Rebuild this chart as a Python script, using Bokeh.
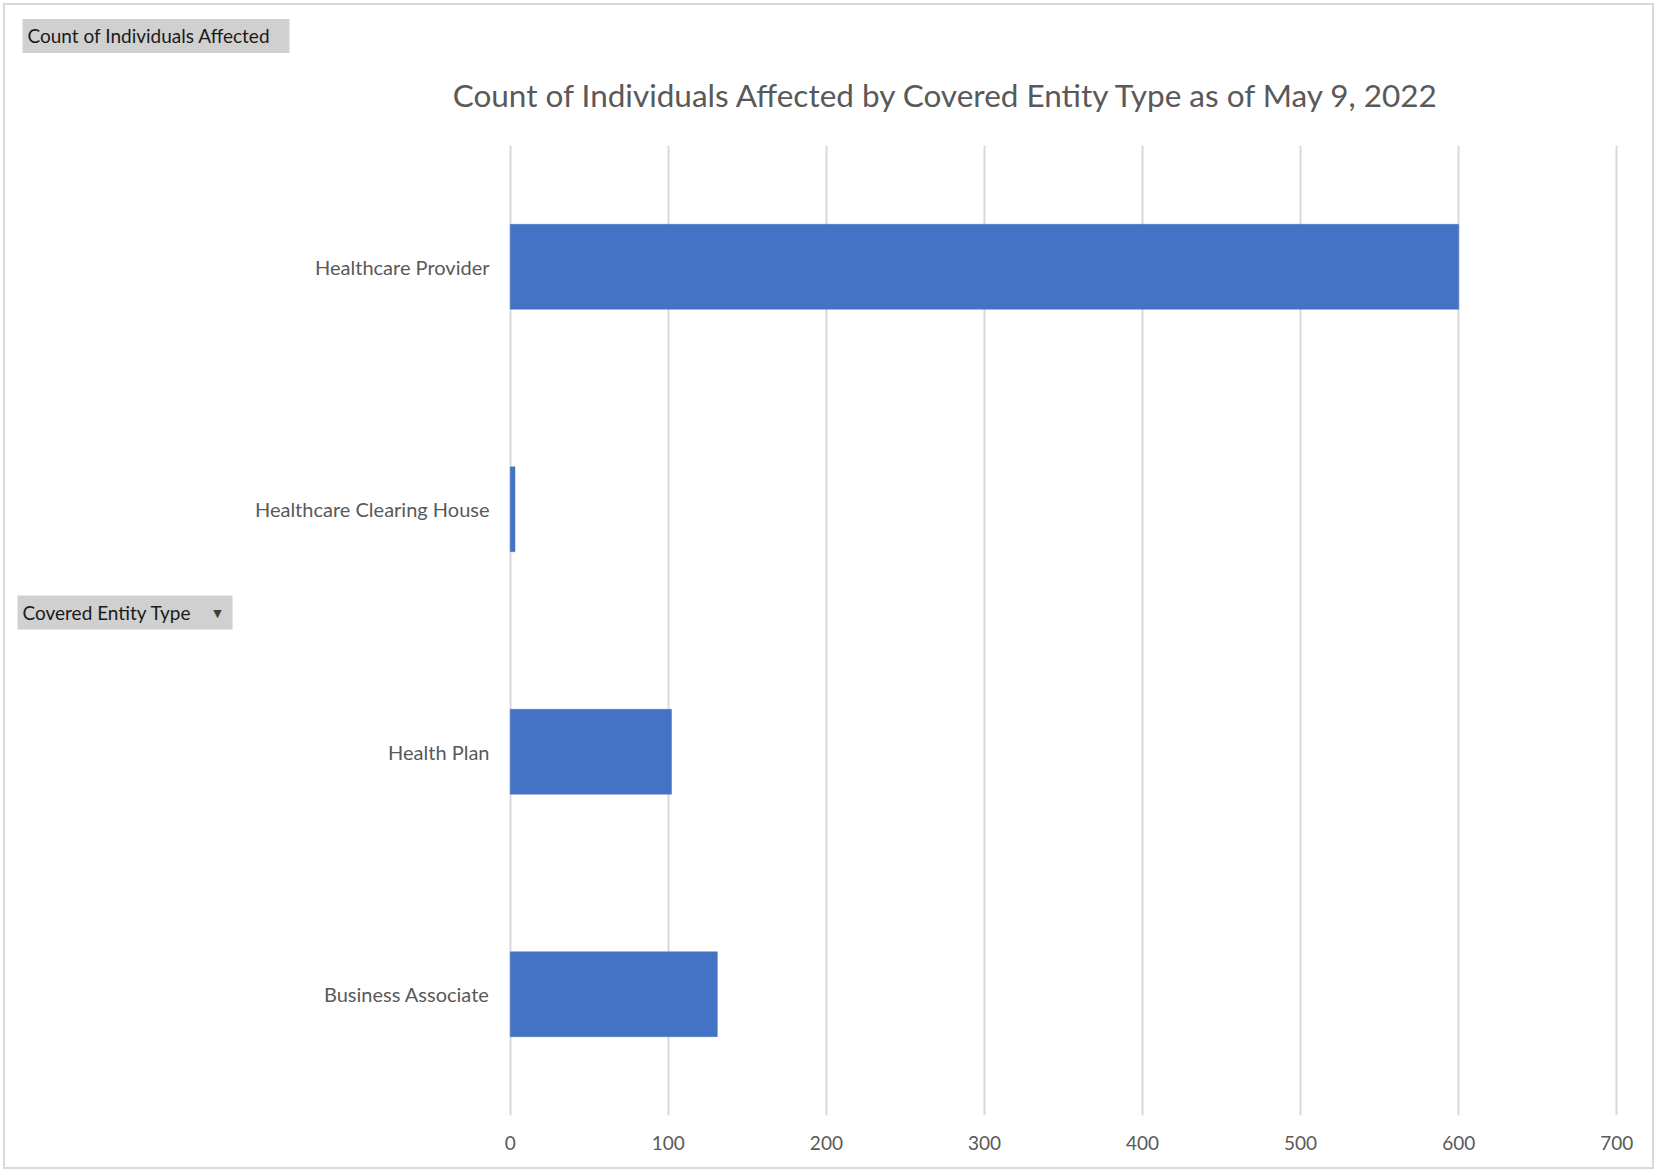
from bokeh.plotting import figure
from bokeh.models import FactorRange, Range1d, FixedTicker, Label, ColumnDataSource
from bokeh.embed import file_html
from bokeh.resources import INLINE

# ---- data ----
entity_types = ["Healthcare Provider", "Healthcare Clearing House", "Health Plan", "Business Associate"]
individuals_affected = [600, 3, 102, 131]
x_ticks = [0, 100, 200, 300, 400, 500, 600, 700]

title_text = "Count of Individuals Affected by Covered Entity Type as of May 9, 2022"
value_button_text = "Count of Individuals Affected"
axis_button_text = "Covered Entity Type"

# ---- layout ----
W, H = 1657, 1172
FL, FR, FT, FB = 505, 36, 145, 57          # borders around the plot frame
X0, X1 = -3, 703                            # value range shown across the frame
frame_w = W - FL - FR
frame_h = H - FT - FB
px_per_unit = frame_w / (X1 - X0)
px_per_cat = frame_h / len(entity_types)

FONT = "Lato"
GREY_TEXT = "#595959"
BAR_BLUE = "#4472C4"
BUTTON_GREY = "#d0d0d0"

y_factors = list(reversed(entity_types))    # categorical axis lists bottom-to-top

p = figure(width=W, height=H, output_backend="svg", toolbar_location=None,
           y_range=FactorRange(*y_factors, range_padding=0),
           x_range=Range1d(X0, X1), title=None,
           min_border_left=FL, min_border_right=FR, min_border_top=FT, min_border_bottom=FB)
p.outline_line_color = None
p.background_fill_color = "white"
p.border_fill_color = None
# thin light-grey frame around the whole chart area
p.styles = {"outline": "2px solid #d9d9d9", "outline-offset": "-5px",
            "box-shadow": "inset 0 0 0 3px #ffffff, inset 0 0 0 5px #d9d9d9",
            "background-color": "#ffffff"}

src = ColumnDataSource(dict(cat=entity_types, val=individuals_affected))
p.hbar(y="cat", right="val", left=0, height=0.35, source=src,
       fill_color=BAR_BLUE, line_color=BAR_BLUE, line_width=0.5)

# vertical gridlines only
p.ygrid.grid_line_color = None
p.xgrid.ticker = FixedTicker(ticks=x_ticks)
p.xgrid.grid_line_color = "#d9d9d9"
p.xgrid.grid_line_width = 2

# value axis
xa = p.xaxis[0]
xa.ticker = FixedTicker(ticks=x_ticks)
xa.axis_line_color = None
xa.major_tick_line_color = None
xa.minor_tick_line_color = None
xa.major_label_text_font = FONT
xa.major_label_text_font_size = "19px"
xa.major_label_text_color = GREY_TEXT
xa.major_label_standoff = 14

# category axis
ya = p.yaxis[0]
ya.axis_line_color = None
ya.major_tick_line_color = None
ya.minor_tick_line_color = None
ya.major_label_text_font = FONT
ya.major_label_text_font_size = "20px"
ya.major_label_text_color = GREY_TEXT
ya.major_label_standoff = 10


def dx(cx):
    # canvas x (px from left) -> value coordinate
    return (cx - FL) / px_per_unit + X0


def dy(cy):
    # canvas y (px from top) -> categorical synthetic coordinate
    return (H - FB - cy) / px_per_cat


# chart title
p.add_layout(Label(x=dx(947), y=dy(94), text=title_text,
                   text_align="center", text_baseline="middle",
                   text_font=FONT, text_font_size="31.5px", text_color=GREY_TEXT), "above")

# pivot field buttons (anchored at the button's left edge)
p.add_layout(Label(x=dx(22), y=dy(35.5), text=value_button_text,
                   text_align="left", text_baseline="middle",
                   text_font=FONT, text_font_size="19px", text_color="#1a1a1a",
                   background_fill_color=BUTTON_GREY, padding=(5, 19, 5, 6)), "above")

p.add_layout(Label(x=dx(17), y=dy(612), text=axis_button_text,
                   text_align="left", text_baseline="middle",
                   text_font=FONT, text_font_size="19px", text_color="#1a1a1a",
                   background_fill_color=BUTTON_GREY, padding=(5, 41, 5, 6)), "left")

p.add_layout(Label(x=dx(217), y=dy(613), text="\u25bc",
                   text_align="center", text_baseline="middle",
                   text_font="DejaVu Sans", text_font_size="11px", text_color="#404040"), "right")

open("out.html", "w").write(file_html(p, INLINE))
